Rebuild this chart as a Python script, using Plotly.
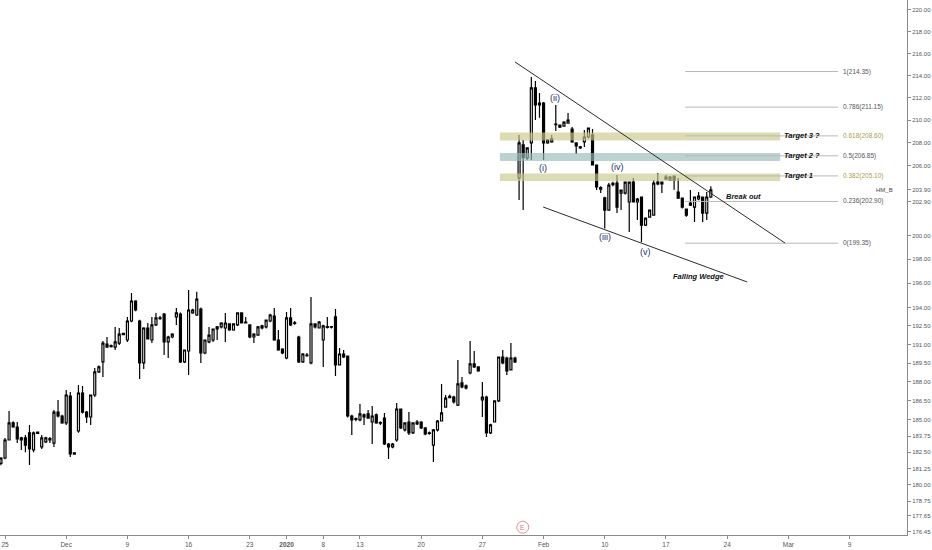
import numpy as np
import plotly.graph_objects as go

# ---------------- data ----------------
first_bar = -1
opens = [181.63,182.05,183.44,184.77,184.45,183.44,183.60,184.00,182.67,184.05,
         182.90,183.30,183.55,183.20,185.62,185.31,184.77,186.88,182.45,184.14,
         187.12,185.62,185.23,186.96,188.79,189.59,191.03,190.83,190.79,191.11,
         191.90,191.36,192.90,194.54,192.90,189.51,192.33,191.36,192.58,193.10,
         193.47,191.20,191.60,193.23,193.47,189.59,190.47,193.56,193.39,193.88,
         190.31,191.20,191.36,192.25,192.42,192.33,192.66,192.17,192.58,193.56,
         192.74,192.58,191.60,191.76,192.33,192.42,192.90,193.31,191.36,190.63,
         189.91,193.15,192.70,191.60,189.59,190.10,189.51,192.66,192.33,191.36,
         192.45,192.40,193.23,189.35,190.23,190.07,185.31,185.05,185.00,185.23,
         185.47,184.84,185.39,184.80,185.15,183.13,182.90,183.44,185.86,184.22,
         184.84,183.99,184.69,184.84,184.38,183.95,183.05,184.22,184.92,186.01,
         186.75,186.80,186.17,187.92,187.52,188.71,189.43,189.19,186.57,186.80,
         183.99,184.84,186.49,189.99,189.91,188.95,189.91,
         204.92,207.80,206.66,207.98,212.87,211.34,211.52,207.98,208.07,209.60,
         209.56,209.47,209.73,209.20,207.98,207.63,208.07,208.50,208.68,206.05,
         204.10,203.20,202.16,204.35,204.48,203.62,203.62,202.85,204.57,202.85,
         203.28,200.88,201.56,201.73,204.40,204.57,204.83,204.74,205.09,203.70,
         203.19,202.25,202.76,202.42,203.11,203.28,201.90,203.28]
highs = [182.10,183.60,185.70,184.90,184.84,183.70,183.83,184.61,184.10,184.10,
         183.83,183.70,183.67,185.78,186.57,185.40,187.36,187.20,182.50,187.76,
         187.68,185.70,187.00,189.10,189.30,191.28,191.60,191.00,192.42,192.33,
         191.95,193.23,195.20,194.60,193.00,192.40,192.74,193.23,193.56,193.30,
         193.55,191.70,191.90,193.96,193.60,190.60,195.45,193.90,195.30,194.00,
         191.40,192.42,192.30,192.50,192.80,193.56,192.70,192.70,193.60,193.60,
         193.23,192.60,191.90,192.50,192.60,193.00,193.50,193.96,192.17,190.70,
         193.64,193.96,192.90,191.70,190.30,190.30,194.87,192.70,192.90,192.60,
         193.23,192.50,193.88,190.71,190.55,190.10,185.40,185.20,186.25,185.50,
         185.78,186.10,185.50,184.90,185.55,183.20,183.20,186.33,185.90,184.80,
         185.62,184.80,185.00,184.90,184.40,184.10,184.30,185.00,187.84,186.96,
         187.00,186.90,189.75,188.39,187.80,191.28,190.47,189.20,187.99,186.90,
         184.70,186.50,190.00,190.55,190.00,191.11,190.00,
         208.68,208.24,207.60,213.86,213.50,212.42,211.60,208.30,208.68,211.34,
         209.60,209.90,210.63,209.38,208.00,207.70,209.12,209.35,209.20,206.10,
         204.20,203.30,204.48,204.60,205.18,203.90,204.60,204.60,204.92,203.20,
         203.30,201.50,202.20,204.74,205.35,204.60,205.18,205.10,205.10,204.92,
         203.20,202.30,203.88,203.30,203.70,203.30,203.70,204.20]
lows = [181.50,181.95,183.40,184.40,183.20,182.67,182.50,181.51,182.50,183.90,
        182.75,183.20,183.20,182.90,185.20,184.70,184.60,182.13,182.30,184.00,
        185.50,184.77,184.61,186.80,188.70,188.39,190.75,190.75,190.55,190.95,
        191.75,191.20,192.80,193.70,188.23,189.03,191.40,191.11,192.50,193.00,
        190.15,189.91,191.50,192.58,189.50,189.50,188.55,193.50,193.30,189.51,
        190.20,191.10,191.20,191.36,192.30,191.20,192.10,192.10,192.50,192.70,
        192.70,191.50,191.11,191.70,192.20,192.30,192.80,191.30,190.50,190.20,
        189.80,192.50,192.60,189.50,189.50,190.00,189.40,192.30,192.30,189.19,
        192.30,192.30,188.47,189.30,189.90,185.20,183.83,184.90,184.90,184.61,
        185.10,183.13,184.70,184.60,183.05,181.97,182.80,183.30,184.30,184.10,
        183.83,183.90,184.60,184.30,183.80,183.85,181.74,184.10,184.90,185.95,
        186.70,186.30,186.10,187.50,187.40,188.60,189.10,188.80,185.23,183.67,
        183.90,184.80,186.40,189.40,188.55,188.90,189.50,
        203.02,202.16,206.50,206.48,210.00,210.20,206.48,207.90,208.00,209.03,
        209.30,209.40,209.70,208.00,207.00,207.45,207.63,208.40,206.00,203.88,
        203.62,200.60,202.10,204.20,201.90,202.16,203.50,200.30,202.80,201.31,
        199.44,200.80,201.50,201.70,204.30,203.62,204.80,204.70,203.90,203.10,
        202.30,201.60,202.50,201.14,203.00,201.14,201.31,203.20]
closes = [182.05,183.44,184.77,184.45,183.52,183.60,183.05,182.75,184.00,183.95,
          183.60,183.60,183.45,185.62,185.31,184.77,186.96,182.36,182.35,187.12,
          185.62,185.23,186.96,188.79,189.19,191.11,190.79,190.90,191.20,191.84,
          191.80,192.90,194.54,193.80,189.51,192.33,191.44,192.58,193.15,193.15,
          191.20,191.60,191.84,193.56,189.59,190.55,193.80,193.80,194.70,190.31,
          191.36,191.76,192.25,192.42,192.74,192.74,192.17,192.66,193.56,192.74,
          192.82,191.60,191.84,192.42,192.50,192.98,193.39,191.36,190.55,190.31,
          193.15,192.58,192.75,189.59,190.23,190.15,192.66,192.42,192.82,192.50,
          192.38,192.45,189.35,190.23,189.99,185.31,185.00,185.10,185.47,185.39,
          185.15,185.31,184.77,184.75,183.13,182.90,183.13,185.86,184.38,184.77,
          183.99,184.77,184.84,184.38,183.91,184.00,184.22,184.92,185.55,186.72,
          186.85,186.41,187.84,187.60,187.68,189.43,189.19,188.87,186.80,183.99,
          184.61,186.49,189.99,189.51,188.87,189.91,189.59,
          207.98,206.70,207.54,212.87,211.34,211.52,207.98,208.24,208.33,209.65,
          209.38,209.82,210.00,208.07,207.71,207.54,208.50,209.29,206.05,204.14,
          203.95,202.16,204.31,204.45,202.42,203.88,204.57,204.57,202.85,203.10,
          200.88,201.48,202.16,204.48,204.57,204.40,205.00,205.00,204.74,203.19,
          202.42,201.73,202.59,203.28,203.36,201.90,203.28,203.90]

# x-axis: bar index of the first bar of each labelled session (3 bars / session)
tick_bars = [0, 15, 30, 45, 60, 69, 78, 87, 102, 117, 132, 147, 162, 177, 192, 207]
tick_text = ["25", "Dec", "9", "16", "23", "<b>2020</b>", "8", "13", "20", "27",
             "Feb", "10", "17", "24", "Mar", "9"]

price_ticks = [220, 218, 216, 214, 212, 210, 208, 206, 203.90, 202.90, 200, 198, 196,
               194, 192.5, 191, 189.5, 188, 186.5, 185, 183.75, 182.5, 181.25, 180,
               178.75, 177.65, 176.45]
price_min, price_max = 176.22, 220.93

fib_ratios = ["1", "0.786", "0.618", "0.5", "0.382", "0.236", "0"]
fib_prices = [214.35, 211.15, 208.60, 206.85, 205.10, 202.90, 199.35]
fib_highlight = [False, False, True, False, True, False, False]
fib_span = [166.7, 204.2]

target_names = ["Target 3 ?", "Target 2 ?", "Target 1"]
target_low = [208.20, 206.40, 204.65]
target_high = [208.90, 207.10, 205.30]
target_level = [208.60, 206.85, 205.10]
target_fill = ["rgba(200,202,140,0.65)", "rgba(150,186,184,0.65)", "rgba(200,202,140,0.65)"]
target_span = [121.3, 190.0]

wedge_upper_x = [125.0, 191.2]
wedge_upper_p = [215.22, 199.36]
wedge_lower_x = [131.9, 181.9]
wedge_lower_p = [202.42, 196.11]

wave_names = ["(i)", "(ii)", "(iii)", "(iv)", "(v)"]
wave_x = [131.9, 134.8, 147.1, 150.0, 156.9]
wave_p = [205.80, 211.97, 199.87, 205.87, 198.60]

notes = ["Break out", "Falling Wedge"]
notes_x = [176.2, 163.2]
notes_p = [203.36, 196.55]

earnings_bar = 126.9
last_price = 203.90

# ---------------- figure ----------------
bars = list(range(first_bar, first_bar + len(opens)))
H = [max(h, o, c) for h, o, c in zip(highs, opens, closes)]
L = [min(l, o, c) for l, o, c in zip(lows, opens, closes)]
lg = np.log10

fig = go.Figure()

# target zones (drawn first, under everything)
for lo, hi, col in zip(target_low, target_high, target_fill):
    x0, x1 = target_span
    fig.add_trace(go.Scatter(x=[x0, x1, x1, x0, x0], y=[lo, lo, hi, hi, lo], mode="lines",
                             fill="toself", fillcolor=col, line=dict(width=0),
                             showlegend=False, hoverinfo="skip"))
# fibonacci levels
for p in fib_prices:
    fig.add_trace(go.Scatter(x=fib_span, y=[p, p], mode="lines",
                             line=dict(color="#b8b8b8", width=1),
                             showlegend=False, hoverinfo="skip"))

fig.add_trace(go.Candlestick(
    x=bars, open=opens, high=H, low=L, close=closes,
    increasing=dict(line=dict(color="#000000", width=1.2), fillcolor="#ffffff"),
    decreasing=dict(line=dict(color="#000000", width=1.2), fillcolor="#000000"),
    whiskerwidth=0, showlegend=False, hoverinfo="skip"))

for xs, ps in [(wedge_upper_x, wedge_upper_p), (wedge_lower_x, wedge_lower_p)]:
    fig.add_trace(go.Scatter(x=xs, y=ps, mode="lines", line=dict(color="#2a2a2a", width=1),
                             showlegend=False, hoverinfo="skip"))

shapes = [dict(type="circle", xref="x", yref="paper", xsizemode="pixel", ysizemode="pixel",
               xanchor=earnings_bar, yanchor=0.0145, x0=-6, x1=6, y0=-6, y1=6,
               line=dict(color="#ef8a9a", width=1), fillcolor="white")]

ann = []
for r, p, hl in zip(fib_ratios, fib_prices, fib_highlight):
    ann.append(dict(x=fib_span[1] + 0.6, y=lg(p), xref="x", yref="y", text=f"{r}({p:.2f})",
                    showarrow=False, xanchor="left", yanchor="middle",
                    font=dict(size=6.5, color="#a6a050" if hl else "#555555",
                              family="Liberation Sans")))
for name, lvl in zip(target_names, target_level):
    ann.append(dict(x=target_span[1] + 0.4, y=lg(lvl), xref="x", yref="y",
                    text=f"<b><i>{name}</i></b>", showarrow=False, xanchor="left",
                    yanchor="middle", font=dict(size=7.5, color="#111111",
                                                family="Liberation Sans")))
for name, xv, pv in zip(wave_names, wave_x, wave_p):
    ann.append(dict(x=xv, y=lg(pv), xref="x", yref="y", text=name, showarrow=False,
                    xanchor="center", yanchor="middle",
                    font=dict(size=9, color="#1f2d6b", family="Liberation Sans")))
for name, xv, pv in zip(notes, notes_x, notes_p):
    ann.append(dict(x=xv, y=lg(pv), xref="x", yref="y", text=f"<b><i>{name}</i></b>",
                    showarrow=False, xanchor="left", yanchor="middle",
                    font=dict(size=7.5, color="#111111", family="Liberation Sans")))
ann.append(dict(x=0.987, y=lg(last_price), xref="paper", yref="y", text="HM_B",
                showarrow=False, xanchor="right", yanchor="middle",
                font=dict(size=6, color="#444444", family="Liberation Sans")))
ann.append(dict(x=earnings_bar, y=0.0145, xref="x", yref="paper", text="E",
                showarrow=False, xanchor="center", yanchor="middle",
                font=dict(size=6.5, color="#e57385", family="Liberation Sans")))

fig.update_layout(
    width=932, height=550,
    margin=dict(l=0, r=25, t=0, b=15),
    paper_bgcolor="white", plot_bgcolor="white",
    boxgap=0.3,
    shapes=shapes, annotations=ann,
    xaxis=dict(range=[-1.225, 221.08], tickmode="array", tickvals=tick_bars,
               ticktext=tick_text, showgrid=False, zeroline=False, showline=True,
               linecolor="#8a8a8a", linewidth=1, ticks="outside", ticklen=3,
               tickcolor="#8a8a8a", tickfont=dict(size=6.5, color="#555555",
                                                  family="Liberation Sans"),
               rangeslider=dict(visible=False), fixedrange=True),
    yaxis=dict(type="log", range=[lg(price_min), lg(price_max)], side="right",
               tickmode="array", tickvals=price_ticks,
               ticktext=[f"{v:.2f}" for v in price_ticks], showgrid=False,
               zeroline=False, showline=True, linecolor="#8a8a8a", linewidth=1,
               ticks="outside", ticklen=3, tickcolor="#8a8a8a", fixedrange=True,
               tickfont=dict(size=6, color="#555555", family="Liberation Sans")),
)

fig.write_html("out.html", config={"displayModeBar": False},
               post_script="document.body.style.margin='0px';")
